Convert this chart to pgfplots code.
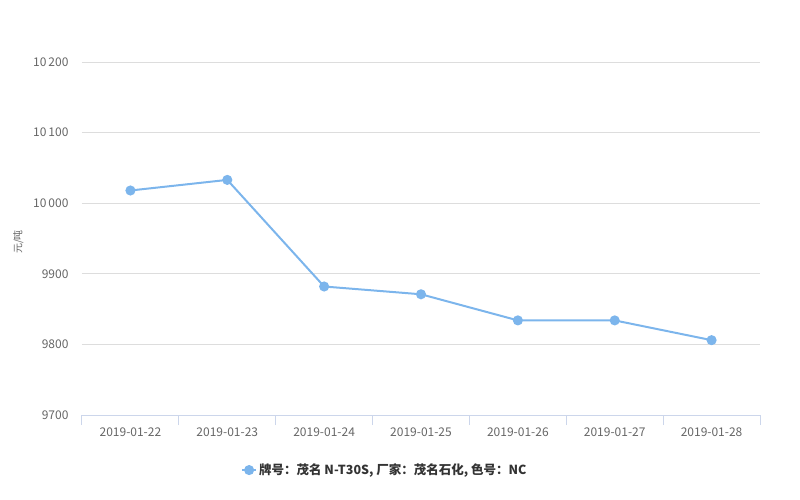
\documentclass[border=0pt]{standalone}
\usepackage{pgfplots}
\pgfplotsset{compat=1.18}
\usepackage{fontspec}
\setmainfont{Noto Sans CJK SC}
\definecolor{hcblue}{HTML}{7CB5EC}
\definecolor{hcaxis}{HTML}{CCD6EB}
\definecolor{hcgrid}{HTML}{DDDDDD}
\definecolor{hctext}{HTML}{666666}
\definecolor{hcleg}{HTML}{333333}
\begin{document}
\begin{tikzpicture}
\path[use as bounding box] (-82bp,-85bp) rectangle (718bp,415bp);
\begin{axis}[
  at={(0,0)}, anchor=south west,
  scale only axis, width=678bp, height=353bp,
  xmin=-0.5, xmax=6.5, ymin=9700, ymax=10200,
  scaled y ticks=false,
  xtick={0,...,6},
  xticklabels={2019-01-22,2019-01-23,2019-01-24,2019-01-25,2019-01-26,2019-01-27,2019-01-28},
  minor xtick={-0.5,0.5,...,6.5},
  ytick={9700,9800,9900,10000,10100,10200},
  yticklabels={9700,9800,9900,10\,000,10\,100,10\,200},
  axis lines*=left,
  y axis line style={draw=none},
  x axis line style={draw=hcaxis, line width=1bp},
  ymajorgrids, grid style={draw=hcgrid, line width=1bp},
  major tick length=0pt,
  minor tick length=10bp,
  tick align=outside,
  xtick pos=bottom,
  minor x tick style={draw=hcaxis, line width=1bp},
  ytick style={draw=none},
  ticklabel style={font=\fontsize{12bp}{14bp}\selectfont, text=hctext},
  yticklabel style={xshift=-10bp},
  xticklabel style={yshift=-9bp},
  ylabel={元/吨},
  ylabel style={font=\fontsize{10bp}{12bp}\selectfont, text=hctext, at={(axis description cs:-0.094,0.49)}, anchor=center},
  clip=false,
  legend style={at={(0.23,-0.156)}, anchor=west, draw=none, fill=none,
    font=\fontsize{12.5bp}{14bp}\selectfont\bfseries, text=hcleg,
    legend cell align=left},
  legend image code/.code={
    \draw[hcblue, line width=2bp] (0bp,0bp) -- (14bp,0bp);
    \fill[hcblue] (7bp,0bp) circle (4bp);
  },
]
\addplot[color=hcblue, line width=2bp, mark=*, mark size=4bp, mark options={solid, fill=hcblue, draw=none}]
  coordinates {(0,10018) (1,10033) (2,9882) (3,9871) (4,9834) (5,9834) (6,9806)};
\addlegendentry{牌号：茂名 N-T30S, 厂家：茂名石化, 色号：NC}
\end{axis}
\end{tikzpicture}
\end{document}
